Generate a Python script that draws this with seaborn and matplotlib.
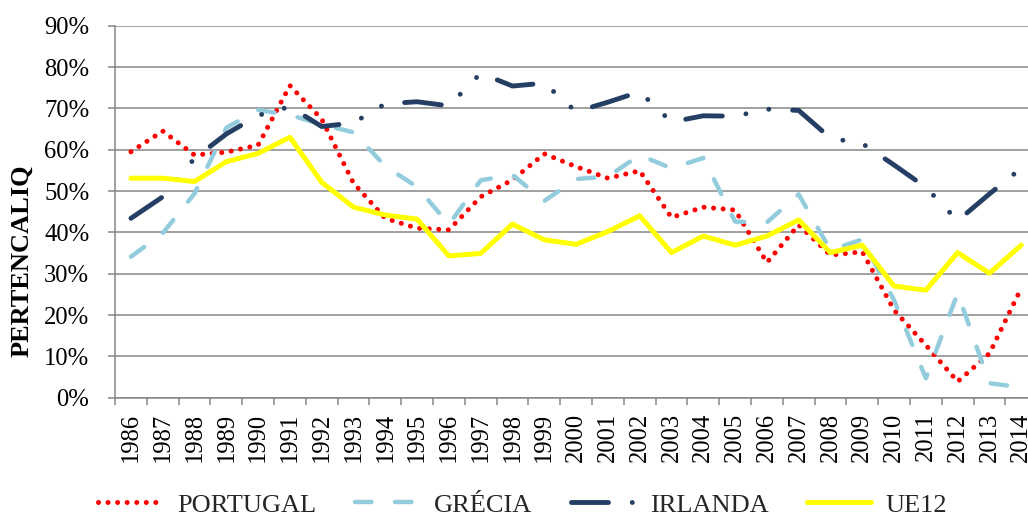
import numpy as np
import pandas as pd
import matplotlib
matplotlib.use("Agg")
import matplotlib.pyplot as plt
import matplotlib.ticker as mticker
import seaborn as sns

# Set visual style
sns.set_theme(style="white")
plt.rcParams['font.family'] = ['Liberation Serif', 'DejaVu Serif']

years = list(range(1986, 2015))

# values, in %
portugal = [59.5, 64.5, 58.7, 59.4, 61.1, 75.5, 67.4, 51.9, 43.4, 41.0,
            40.6, 48.6, 52.7, 59.0, 55.9, 53.1, 54.9, 43.6, 46.1, 45.4,
            32.7, 41.8, 34.5, 35.3, 21.2, 12.7, 3.9, 10.7, 26.5]
grecia = [34.1, 39.8, 49.4, 65.3, 69.6, 68.4, 66.1, 64.2, 56.0, 51.0,
          41.9, 52.6, 53.9, 47.6, 52.9, 53.5, 58.7, 55.5, 58.0, 42.6,
          42.4, 49.2, 35.7, 38.3, 23.6, 4.7, 25.3, 3.5, 2.5]
irlanda = [43.4, 48.6, 57.9, 63.8, 68.3, 70.4, 65.6, 66.5, 71.1, 71.6,
           70.6, 78.5, 75.4, 76.1, 69.2, 71.5, 74.0, 66.7, 68.2, 68.1,
           69.8, 69.5, 62.8, 61.5, 56.3, 50.9, 42.8, 49.3, 55.5]
ue12 = [53.1, 53.1, 52.3, 57.1, 59.1, 63.0, 52.1, 46.1, 44.2, 43.2,
        34.3, 34.9, 42.0, 38.2, 37.1, 40.2, 44.0, 35.1, 39.1, 36.9,
        39.1, 43.0, 35.1, 36.9, 27.0, 26.0, 35.1, 30.1, 36.9]

series_names = ['PORTUGAL', 'GRÉCIA', 'IRLANDA', 'UE12']
y_ticks = [0.0, 0.1, 0.2, 0.3, 0.4, 0.5, 0.6, 0.7, 0.8, 0.9]

grid_col = '#868686'

fig = plt.figure(figsize=(10.28, 5.2), dpi=100)
ax = fig.add_axes([0.1119, 0.2352, 0.897, 0.7154])

styles = {
    'PORTUGAL': dict(color='#FF0000', lw=3.6, linestyle=(0, (0.01, 1.9))),
    'GRÉCIA': dict(color='#93CDDD', lw=3.2, linestyle=(0, (3.7, 5.3))),
    'IRLANDA': dict(color='#243E64', lw=3.5,
                    linestyle=(0, (7.6, 4.9, 0.01, 4.8, 0.01, 4.9))),
    'UE12': dict(color='#FFFF00', lw=3.6, linestyle='-'),
}

for name, vals in zip(series_names, [portugal, grecia, irlanda, ue12]):
    st = styles[name]
    sns.lineplot(x=years, y=np.array(vals) / 100, ax=ax, color=st['color'],
                 lw=st['lw'], linestyle=st['linestyle'], label=name,
                 dash_capstyle='round', solid_capstyle='round',
                 solid_joinstyle='round', clip_on=False)

if ax.get_legend() is not None:
    ax.get_legend().remove()

# y axis
ax.set_ylim(0, 0.9)
ax.set_yticks(y_ticks)
ax.yaxis.set_major_formatter(mticker.PercentFormatter(xmax=1, decimals=0))
ax.grid(axis='y', color=grid_col, lw=1.1)
ax.grid(axis='x', visible=False)
ax.set_axisbelow(True)

# x axis: labels at years, tick marks between categories
ax.set_xlim(1985.5, 2014.5)
ax.set_xticks(years)
ax.set_xticklabels([str(y) for y in years], rotation=90)
ax.set_xticks(np.arange(1985.5, 2015, 1.0), minor=True)
ax.tick_params(axis='x', which='major', length=0, pad=11, labelsize=17.7,
               labelcolor='black')
ax.tick_params(axis='x', which='minor', length=5, width=1.1, color=grid_col,
               direction='out', bottom=True)
ax.tick_params(axis='y', which='major', length=5, width=1.1, color=grid_col,
               direction='out', left=True, pad=13.5, labelsize=17.7,
               labelcolor='black')

for side in ['top', 'right']:
    ax.spines[side].set_visible(False)
for side in ['left', 'bottom']:
    ax.spines[side].set_color(grid_col)
    ax.spines[side].set_linewidth(1.1)

ax.set_xlabel('')
ax.set_ylabel('PERTENCALIQ', fontsize=19, fontweight='bold', color='black')
ax.yaxis.set_label_coords(-0.0889, 0.3675)

handles, labels = ax.get_legend_handles_labels()
fig.legend(handles, labels, loc='center', bbox_to_anchor=(523 / 1028, 0.029),
           ncol=4, frameon=False, fontsize=19, handlelength=2.45,
           handletextpad=0.55, columnspacing=1.45, borderpad=0)

fig.savefig('out.png', dpi=100)
